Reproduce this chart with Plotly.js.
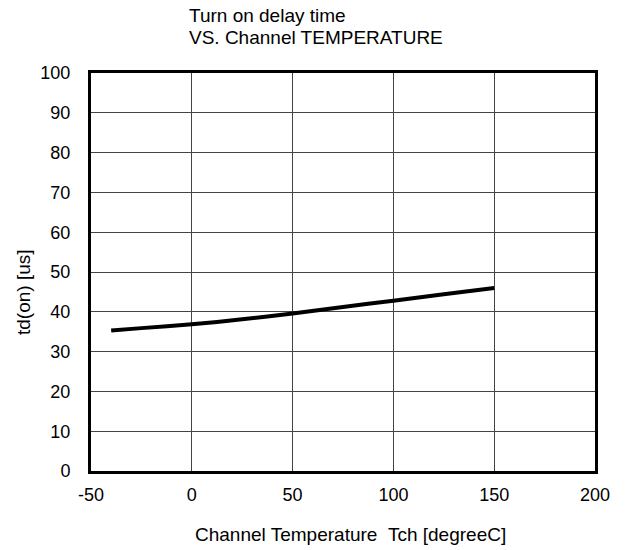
<!DOCTYPE html>
<html>
<head>
<meta charset="utf-8">
<script src="https://cdn.plot.ly/plotly-3.0.1.min.js"></script>
<style>html,body{margin:0;padding:0;background:#fff;}#chart{width:626px;height:550px;}</style>
</head>
<body>
<div id="chart"></div>
<script>
const temperature = [-40, -25, 0, 25, 50, 75, 100, 125, 150];
const tdOn = [35.3, 35.9, 36.85, 38.1, 39.6, 41.2, 42.8, 44.4, 46.0];
const xTickVals = [-50, 0, 50, 100, 150, 200];
const xTickText = ['-50', '0', '50', '100', '150', '200'];
const yTickVals = [0, 10, 20, 30, 40, 50, 60, 70, 80, 90, 100];
const yTickText = ['0', '10', '20', '30', '40', '50', '60', '70', '80', '90', '100'];
const titleLines = ['Turn on delay time', 'VS. Channel TEMPERATURE'];
const xTitle = 'Channel Temperature&nbsp;&nbsp;Tch [degreeC]';
const yTitle = 'td(on) [us]';

const font = 'Liberation Sans, Arial, sans-serif';
const txt = {family: font, size: 19, color: '#000'};
const tick = {family: font, size: 18, color: '#000'};
Plotly.newPlot('chart', [{
  x: temperature, y: tdOn, type: 'scatter', mode: 'lines',
  line: {color: '#000', width: 4, shape: 'spline', smoothing: 0.6},
  hoverinfo: 'skip'
}], {
  width: 626, height: 550,
  margin: {l: 91, r: 31, t: 73, b: 79},
  paper_bgcolor: '#fff', plot_bgcolor: '#fff',
  showlegend: false,
  font: {family: font, color: '#000', size: 18},
  annotations: [
    {text: titleLines[0], xref: 'paper', yref: 'paper', x: (187 - 91) / 504, y: 1,
     xanchor: 'left', yanchor: 'middle', showarrow: false, font: txt, yshift: 58},
    {text: titleLines[1], xref: 'paper', yref: 'paper', x: (187 - 91) / 504, y: 1,
     xanchor: 'left', yanchor: 'middle', showarrow: false, font: txt, yshift: 35.5},
    {text: xTitle, xref: 'paper', yref: 'paper', x: (350 - 91) / 504, y: 0,
     xanchor: 'center', yanchor: 'middle', showarrow: false, font: txt, yshift: -(534 - 471)},
    {text: yTitle, xref: 'paper', yref: 'paper', x: 0, y: (471 - 292) / 398, textangle: -90,
     xanchor: 'center', yanchor: 'middle', showarrow: false, font: txt, xshift: -(91 - 23)}
  ],
  xaxis: {
    range: [-50, 200], tickvals: xTickVals, ticktext: xTickText,
    showgrid: true, gridcolor: '#444', gridwidth: 1,
    showline: true, linecolor: '#000', linewidth: 3, mirror: true,
    ticks: '', ticklabelstandoff: 5, zeroline: false,
    tickfont: tick
  },
  yaxis: {
    range: [0, 100], tickvals: yTickVals, ticktext: yTickText,
    showgrid: true, gridcolor: '#444', gridwidth: 1,
    showline: true, linecolor: '#000', linewidth: 3, mirror: true,
    ticks: '', ticklabelstandoff: 14, zeroline: false,
    tickfont: tick
  }
}, {staticPlot: true});
</script>
</body>
</html>
